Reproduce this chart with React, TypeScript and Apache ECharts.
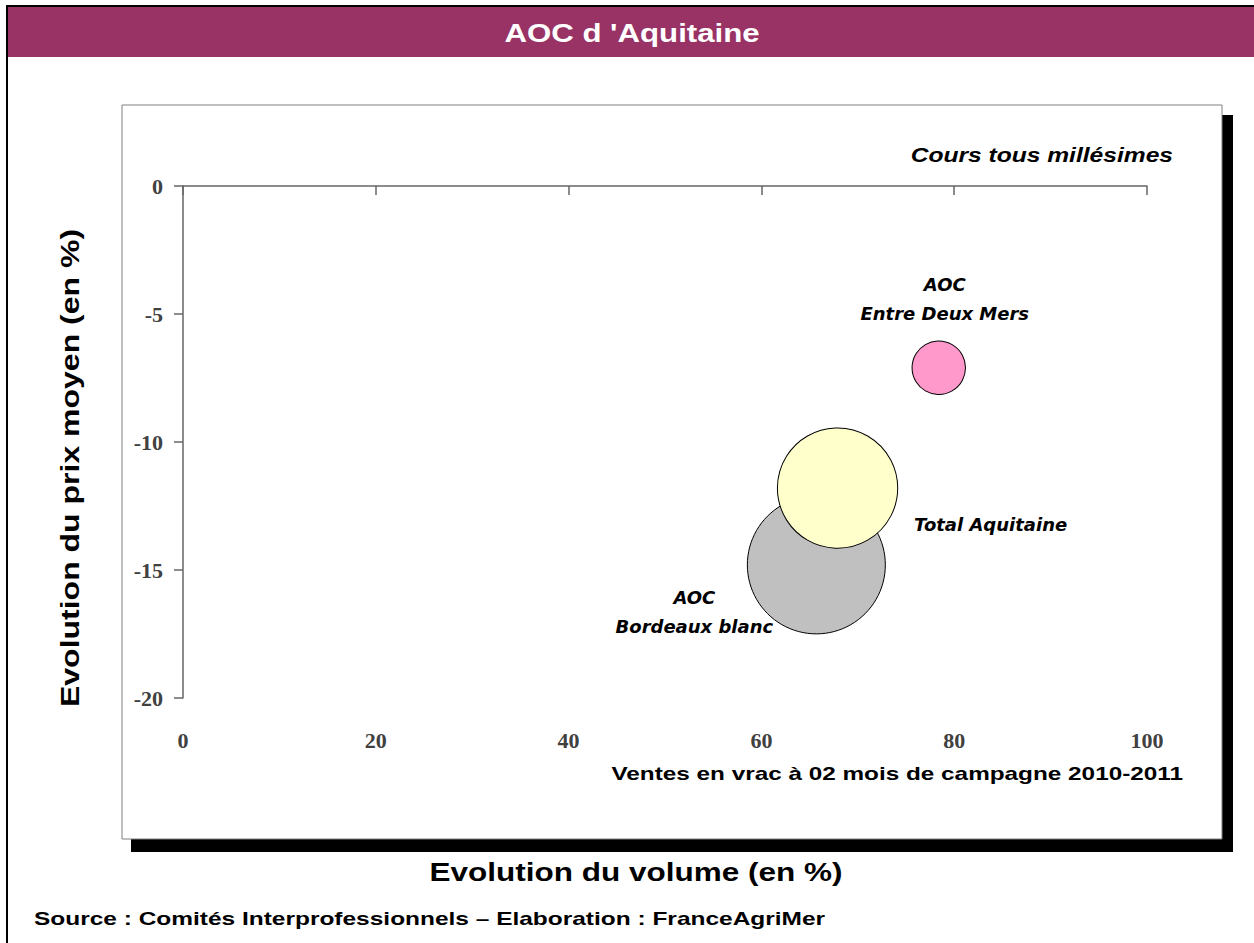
import React, { useEffect, useRef } from "react";
import * as echarts from "echarts";

const names = ["AOC\nBordeaux blanc", "Total Aquitaine", "AOC\nEntre Deux Mers"];
const volumeEvol = [65.7, 67.9, 78.4];
const priceEvol = [-14.8, -11.8, -7.1];
const weights = [100, 76, 15];
const colors = ["#C0C0C0", "#FFFFCC", "#FF99CC"];
const labelOffsets = [[-122, 47], [153, 36], [6, -69]];
const xTicks = [0, 20, 40, 60, 80, 100];
const yTicks = [-20, -15, -10, -5, 0];

export default function App() {
  const ref = useRef<HTMLDivElement>(null);
  useEffect(() => {
    if (!ref.current) return;
    const chart = echarts.init(ref.current, null, { renderer: "svg" });
    const tickFont = {
      fontFamily: "Liberation Serif",
      fontWeight: "bold" as const,
      fontSize: 22,
      color: "#404040",
    };
    const data = names.map((n, i) => ({
      name: n,
      value: [volumeEvol[i], priceEvol[i], weights[i]],
      itemStyle: { color: colors[i], borderColor: "#000", borderWidth: 1, opacity: 1 },
      label: {
        show: true,
        position: "inside",
        offset: labelOffsets[i],
        formatter: n,
        fontFamily: "DejaVu Sans",
        fontWeight: "bold",
        fontStyle: "italic",
        fontSize: 18,
        lineHeight: 29,
        color: "#000",
        align: "center",
      },
    }));
    chart.setOption({
      animation: false,
      backgroundColor: "#fff",
      graphic: [
        { type: "rect", z: -5, shape: { x: 131, y: 115, width: 1102, height: 737 }, style: { fill: "#000" } },
        { type: "rect", z: -4, shape: { x: 122, y: 105, width: 1100, height: 734 }, style: { fill: "#fff", stroke: "#808080", lineWidth: 1 } },
        { type: "rect", shape: { x: 8, y: 7, width: 1246, height: 50 }, style: { fill: "#993366" } },
        { type: "line", shape: { x1: 6, y1: 6, x2: 1254, y2: 6 }, style: { stroke: "#000", lineWidth: 2 } },
        { type: "line", shape: { x1: 7, y1: 5, x2: 7, y2: 943 }, style: { stroke: "#000", lineWidth: 2 } },
        {
          type: "text", x: 632, y: 33, scaleX: 1.2,
          style: { text: "AOC d 'Aquitaine", fill: "#fff", font: "bold 26px 'Liberation Sans'", align: "center", verticalAlign: "middle" },
        },
        {
          type: "text", x: 1173, y: 155, scaleX: 1.23,
          style: { text: "Cours tous millésimes", fill: "#000", font: "italic bold 20px 'Liberation Sans'", align: "right", verticalAlign: "middle" },
        },
        {
          type: "text", x: 1183, y: 773, scaleX: 1.28,
          style: { text: "Ventes en vrac à 02 mois de campagne 2010-2011", fill: "#000", font: "bold 19px 'Liberation Sans'", align: "right", verticalAlign: "middle" },
        },
        {
          type: "text", x: 636, y: 872, scaleX: 1.26,
          style: { text: "Evolution du volume (en %)", fill: "#000", font: "bold 25px 'Liberation Sans'", align: "center", verticalAlign: "middle" },
        },
        {
          type: "text", x: 70, y: 468, rotation: Math.PI / 2, scaleX: 1.28,
          style: { text: "Evolution du prix moyen (en %)", fill: "#000", font: "bold 25px 'Liberation Sans'", align: "center", verticalAlign: "middle" },
        },
        {
          type: "text", x: 34, y: 919, scaleX: 1.36,
          style: { text: "Source : Comités Interprofessionnels – Elaboration : FranceAgriMer", fill: "#000", font: "bold 18px 'Liberation Sans'", align: "left", verticalAlign: "middle" },
        },
      ],
      grid: { left: 183, top: 186, right: 107, bottom: 245, containLabel: false },
      xAxis: [
        {
          type: "value", position: "top", min: 0, max: 100, interval: 20,
          axisLine: { show: true, onZero: false, lineStyle: { color: "#666", width: 1.5 } },
          axisTick: { show: true, inside: true, length: 9, lineStyle: { color: "#666", width: 1.5 } },
          axisLabel: { show: false },
          splitLine: { show: false },
        },
        {
          type: "value", position: "bottom", min: 0, max: 100, interval: 20,
          axisLine: { show: false, onZero: false },
          axisTick: { show: false },
          axisLabel: { show: true, margin: 31, ...tickFont, customValues: xTicks },
          splitLine: { show: false },
        },
      ],
      yAxis: {
        type: "value", min: -20, max: 0, interval: 5,
        axisLine: { show: true, onZero: false, lineStyle: { color: "#666", width: 1.5 } },
        axisTick: { show: true, inside: false, length: 9, lineStyle: { color: "#666", width: 1.5 } },
        axisLabel: { show: true, margin: 20, ...tickFont, customValues: yTicks },
        splitLine: { show: false },
      },
      series: [
        {
          type: "scatter",
          xAxisIndex: 0,
          symbol: "circle",
          symbolSize: (v: number[]) => 138 * Math.sqrt(v[2] / 100),
          data,
          z: 3,
        },
      ],
    });
    return () => chart.dispose();
  }, []);
  return (
    <div
      ref={ref}
      style={{ position: "fixed", left: 0, top: 0, width: 1254, height: 943 }}
    />
  );
}
